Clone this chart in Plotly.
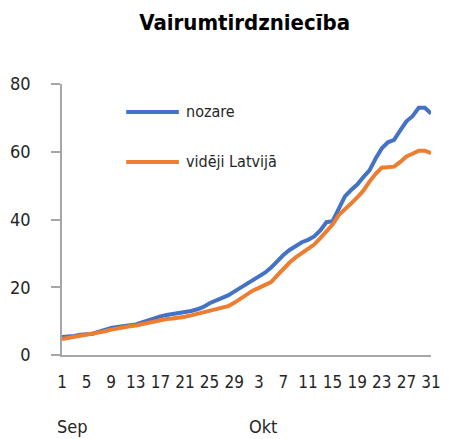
import pandas as pd
import plotly.graph_objects as go

# Daily dates, 1 Sep - 31 Oct
dates = pd.date_range("2020-09-01", "2020-10-31", freq="D")

series_names = ["nozare", "vidēji Latvijā"]
series_colors = ["#4472C4", "#ED7D31"]

nozare = [
    5.3, 5.4, 5.6, 6.0, 6.2, 6.3, 6.9, 7.5, 8.0, 8.3,
    8.6, 8.8, 9.0, 9.6, 10.3, 10.9, 11.4, 11.8, 12.1, 12.2,
    12.5, 13.0, 13.5, 14.2, 15.3, 16.0, 16.8, 17.6, 18.7, 19.8,
    21.0, 22.2, 23.0, 24.3, 25.8, 27.8, 29.5, 31.0, 32.2, 33.3,
    34.0, 35.0, 36.8, 39.2, 39.5, 43.5, 46.8, 48.7, 50.3, 52.5,
    54.5, 58.0, 61.0, 62.8, 63.5, 66.3, 69.0, 70.5, 73.0, 73.0,
    71.3,
]
videji = [
    4.7, 5.0, 5.3, 5.7, 6.0, 6.1, 6.5, 7.0, 7.5, 7.9,
    8.2, 8.5, 8.7, 9.1, 9.5, 10.0, 10.3, 10.6, 10.8, 11.0,
    11.3, 11.7, 12.1, 12.6, 13.1, 13.4, 13.8, 14.4, 15.4, 16.6,
    17.8, 19.0, 19.8, 20.6, 21.5, 23.5, 25.5, 27.3, 28.8, 30.0,
    31.3, 32.6, 34.5, 36.5, 38.5, 41.3, 43.2, 44.7, 46.5, 48.5,
    51.2, 53.5, 55.3, 55.5, 55.6, 57.0, 58.6, 59.4, 60.3, 60.3,
    59.6,
]

# Every fourth day is labelled with its day number
tick_dates = dates[::4]
tick_labels = [str(d.day) for d in tick_dates]
month_labels = ["Sep", "Okt"]
month_starts = [pd.Timestamp("2020-09-01"), pd.Timestamp("2020-10-01")]

y_ticks = [0, 20, 40, 60, 80]

FONT = "DejaVu Sans Condensed, Liberation Sans, sans-serif"
TEXT = "#262626"
AXIS = "#A6A6A6"

fig = go.Figure()
for name, vals, col in zip(series_names, [nozare, videji], series_colors):
    fig.add_trace(go.Scatter(
        x=dates, y=vals, mode="lines", name=name,
        line=dict(color=col, width=4), showlegend=False,
    ))

# Month labels under the day numbers
for lbl, d, shift in zip(month_labels, month_starts, [-7, 0]):
    fig.add_annotation(
        x=d, y=-0.262, xref="x", yref="paper", text=lbl, showarrow=False,
        xanchor="left", yanchor="middle", xshift=shift,
        font=dict(family=FONT, size=18, color=TEXT),
    )

# Legend drawn inside the plot area
leg_y = [0.8967, 0.7122]
for name, col, yy in zip(series_names, series_colors, leg_y):
    fig.add_shape(
        type="line", xref="paper", yref="paper",
        x0=0.174, x1=0.3166, y0=yy, y1=yy,
        line=dict(color=col, width=4),
    )
    fig.add_annotation(
        x=0.3298, y=yy, xref="paper", yref="paper", text=name,
        showarrow=False, xanchor="left", yanchor="middle",
        font=dict(family=FONT, size=16, color=TEXT),
    )

fig.update_layout(
    width=449, height=439,
    margin=dict(l=62, r=8, t=84, b=84),
    paper_bgcolor="white", plot_bgcolor="white",
    title=dict(
        text="<b>Vairumtirdzniecība</b>", x=0.545, xanchor="center",
        y=0.95, yanchor="middle",
        font=dict(family=FONT, size=22, color="black"),
    ),
    xaxis=dict(
        range=[dates[0], dates[-1]],
        tickmode="array", tickvals=tick_dates, ticktext=tick_labels,
        showgrid=False, zeroline=False,
        showline=True, linecolor=AXIS, linewidth=1.5,
        ticks="", ticklabelstandoff=11, ticklabeloverflow="allow",
        tickfont=dict(family=FONT, size=17, color=TEXT),
    ),
    yaxis=dict(
        range=[0, 80], tickmode="array", tickvals=y_ticks,
        showgrid=False, zeroline=False,
        showline=True, linecolor=AXIS, linewidth=1.5,
        ticks="outside", ticklen=9, tickcolor=AXIS, tickwidth=1.5,
        ticklabelstandoff=17,
        tickfont=dict(family=FONT, size=18, color=TEXT),
    ),
)

fig.write_html("out.html")
